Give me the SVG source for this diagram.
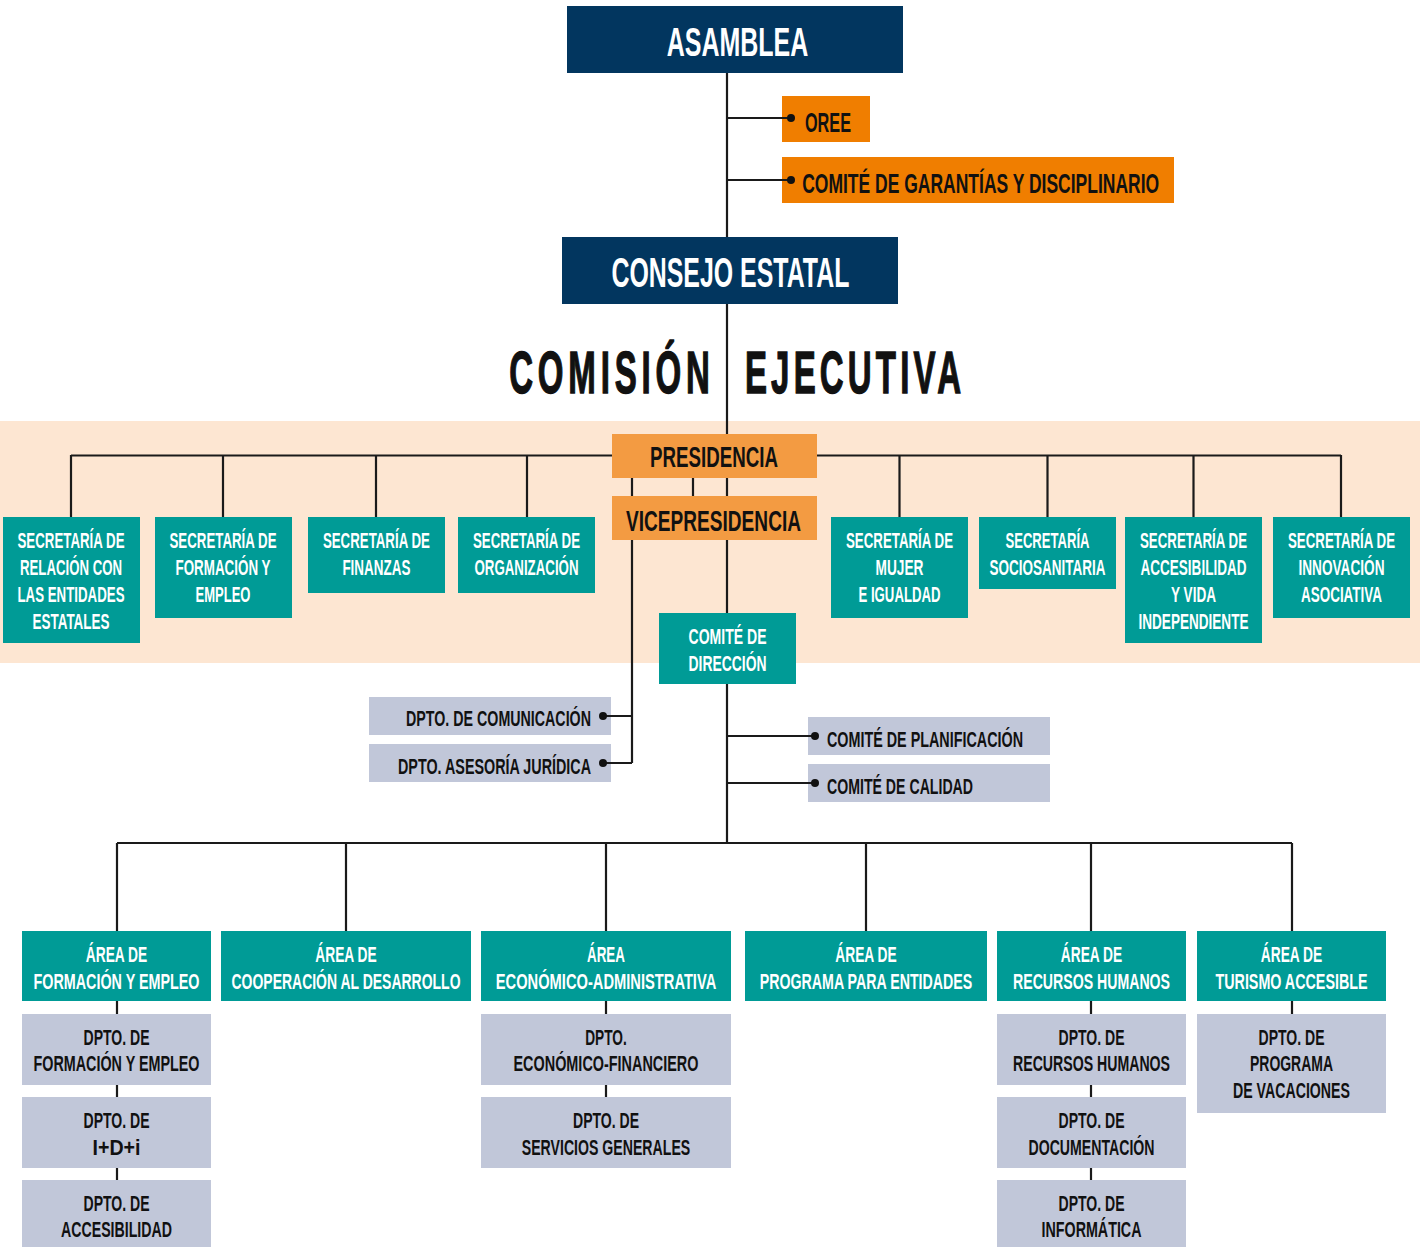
<svg xmlns="http://www.w3.org/2000/svg" width="1420" height="1247" viewBox="0 0 1420 1247">
<style>
text{font-family:"Liberation Sans Narrow","Liberation Sans","DejaVu Sans Condensed",sans-serif;font-weight:bold;text-anchor:middle}
.navy{fill:#02365f}
.org{fill:#f07e00}
.pres{fill:#f39b42}
.teal{fill:#009b96}
.lav{fill:#c1c7d9}
.w{fill:#ffffff}
.k{fill:#111111}
.s22{font-size:22px}
.s28{font-size:28px}
.big{font-size:60px;stroke:#111111;stroke-width:1.4}
.ln{stroke:#1a1a1a;stroke-width:2.2;fill:none}
.dot{fill:#111111}
.st{text-anchor:start}
</style>
<rect x="0" y="0" width="1420" height="1247" fill="#ffffff"/>
<rect x="0" y="421" width="1420" height="242" fill="#fde6d2"/>

<g id="asamblea"><rect class="navy" x="567" y="6" width="336" height="67"/><text class="w" x="737.5" y="56" font-size="41" textLength="141.5" lengthAdjust="spacingAndGlyphs">ASAMBLEA</text></g>
<g id="oree"><rect class="org" x="782" y="96" width="88" height="46"/><text class="k s28" x="828" y="132" textLength="46" lengthAdjust="spacingAndGlyphs">OREE</text></g>
<g id="comite-garantias"><rect class="org" x="782" y="157" width="392" height="46"/><text class="k s28" x="980.7" y="192.5" textLength="357" lengthAdjust="spacingAndGlyphs">COMITÉ DE GARANTÍAS Y DISCIPLINARIO</text></g>
<g id="consejo"><rect class="navy" x="562" y="237" width="336" height="67"/><text class="w" x="730.4" y="287" font-size="42" textLength="238" lengthAdjust="spacingAndGlyphs">CONSEJO ESTATAL</text></g>
<g id="comision"><text class="k big" transform="translate(609.5,392.5) scale(0.55,1)" x="0" y="0" textLength="365" lengthAdjust="spacing">COMISIÓN</text><text class="k big" transform="translate(853,392.5) scale(0.55,1)" x="0" y="0" textLength="393" lengthAdjust="spacing">EJECUTIVA</text></g>

<g id="presidencia"><rect class="pres" x="612" y="434" width="205" height="44"/><text class="k" x="714" y="467" font-size="29" textLength="128" lengthAdjust="spacingAndGlyphs">PRESIDENCIA</text></g>
<g id="vicepresidencia"><rect class="pres" x="612" y="496" width="205" height="44"/><text class="k" x="713.5" y="531" font-size="29" textLength="175" lengthAdjust="spacingAndGlyphs">VICEPRESIDENCIA</text></g>

<g id="sec-relacion"><rect class="teal" x="3" y="517" width="137" height="126"/>
<text class="w s22" x="71" y="548" textLength="107" lengthAdjust="spacingAndGlyphs">SECRETARÍA DE</text>
<text class="w s22" x="71" y="575" textLength="102" lengthAdjust="spacingAndGlyphs">RELACIÓN CON</text>
<text class="w s22" x="71" y="602" textLength="107" lengthAdjust="spacingAndGlyphs">LAS ENTIDADES</text>
<text class="w s22" x="71" y="629" textLength="77" lengthAdjust="spacingAndGlyphs">ESTATALES</text></g>
<g id="sec-formacion"><rect class="teal" x="155" y="517" width="137" height="101"/>
<text class="w s22" x="223" y="548" textLength="107" lengthAdjust="spacingAndGlyphs">SECRETARÍA DE</text>
<text class="w s22" x="223" y="575" textLength="95" lengthAdjust="spacingAndGlyphs">FORMACIÓN Y</text>
<text class="w s22" x="223" y="602" textLength="55" lengthAdjust="spacingAndGlyphs">EMPLEO</text></g>
<g id="sec-finanzas"><rect class="teal" x="308" y="517" width="137" height="76"/>
<text class="w s22" x="376.4" y="548" textLength="107" lengthAdjust="spacingAndGlyphs">SECRETARÍA DE</text>
<text class="w s22" x="376.4" y="575" textLength="68" lengthAdjust="spacingAndGlyphs">FINANZAS</text></g>
<g id="sec-organizacion"><rect class="teal" x="458" y="517" width="137" height="76"/>
<text class="w s22" x="526.5" y="548" textLength="107" lengthAdjust="spacingAndGlyphs">SECRETARÍA DE</text>
<text class="w s22" x="526.5" y="575" textLength="104" lengthAdjust="spacingAndGlyphs">ORGANIZACIÓN</text></g>
<g id="sec-mujer"><rect class="teal" x="831" y="517" width="137" height="101"/>
<text class="w s22" x="899.5" y="548" textLength="107" lengthAdjust="spacingAndGlyphs">SECRETARÍA DE</text>
<text class="w s22" x="899.5" y="575" textLength="48" lengthAdjust="spacingAndGlyphs">MUJER</text>
<text class="w s22" x="899.5" y="602" textLength="82" lengthAdjust="spacingAndGlyphs">E IGUALDAD</text></g>
<g id="sec-sociosanitaria"><rect class="teal" x="979" y="517" width="137" height="72"/>
<text class="w s22" x="1047.5" y="548" textLength="84" lengthAdjust="spacingAndGlyphs">SECRETARÍA</text>
<text class="w s22" x="1047.5" y="575" textLength="116" lengthAdjust="spacingAndGlyphs">SOCIOSANITARIA</text></g>
<g id="sec-accesibilidad"><rect class="teal" x="1125" y="517" width="137" height="126"/>
<text class="w s22" x="1193.5" y="548" textLength="107" lengthAdjust="spacingAndGlyphs">SECRETARÍA DE</text>
<text class="w s22" x="1193.5" y="575" textLength="106" lengthAdjust="spacingAndGlyphs">ACCESIBILIDAD</text>
<text class="w s22" x="1193.5" y="602" textLength="45" lengthAdjust="spacingAndGlyphs">Y VIDA</text>
<text class="w s22" x="1193.5" y="629" textLength="110" lengthAdjust="spacingAndGlyphs">INDEPENDIENTE</text></g>
<g id="sec-innovacion"><rect class="teal" x="1273" y="517" width="137" height="101"/>
<text class="w s22" x="1341.5" y="548" textLength="107" lengthAdjust="spacingAndGlyphs">SECRETARÍA DE</text>
<text class="w s22" x="1341.5" y="575" textLength="86" lengthAdjust="spacingAndGlyphs">INNOVACIÓN</text>
<text class="w s22" x="1341.5" y="602" textLength="81" lengthAdjust="spacingAndGlyphs">ASOCIATIVA</text></g>

<g id="comite-direccion"><rect class="teal" x="659" y="613" width="137" height="71"/>
<text class="w s22" x="727.5" y="644" textLength="78" lengthAdjust="spacingAndGlyphs">COMITÉ DE</text>
<text class="w s22" x="727.5" y="671" textLength="78" lengthAdjust="spacingAndGlyphs">DIRECCIÓN</text></g>

<g id="dpto-comunicacion"><rect class="lav" x="369" y="697" width="242" height="38"/>
<text class="k s22" x="498.5" y="726" textLength="185" lengthAdjust="spacingAndGlyphs">DPTO. DE COMUNICACIÓN</text></g>
<g id="dpto-juridica"><rect class="lav" x="369" y="744" width="242" height="38"/>
<text class="k s22" x="494.5" y="774" textLength="193" lengthAdjust="spacingAndGlyphs">DPTO. ASESORÍA JURÍDICA</text></g>
<g id="comite-planificacion"><rect class="lav" x="808" y="717" width="242" height="38"/>
<text class="k s22 st" x="827" y="747" textLength="196" lengthAdjust="spacingAndGlyphs">COMITÉ DE PLANIFICACIÓN</text></g>
<g id="comite-calidad"><rect class="lav" x="808" y="764" width="242" height="38"/>
<text class="k s22 st" x="827" y="794" textLength="146" lengthAdjust="spacingAndGlyphs">COMITÉ DE CALIDAD</text></g>

<g id="area-formacion"><rect class="teal" x="22" y="931" width="189" height="70"/>
<text class="w s22" x="116.5" y="962" textLength="61.5" lengthAdjust="spacingAndGlyphs">ÁREA DE</text>
<text class="w s22" x="116.5" y="988.5" textLength="166" lengthAdjust="spacingAndGlyphs">FORMACIÓN Y EMPLEO</text></g>
<g id="area-cooperacion"><rect class="teal" x="221" y="931" width="250" height="70"/>
<text class="w s22" x="346" y="962" textLength="61.5" lengthAdjust="spacingAndGlyphs">ÁREA DE</text>
<text class="w s22" x="346" y="988.5" textLength="229" lengthAdjust="spacingAndGlyphs">COOPERACIÓN AL DESARROLLO</text></g>
<g id="area-economico"><rect class="teal" x="481" y="931" width="250" height="70"/>
<text class="w s22" x="606" y="962" textLength="38" lengthAdjust="spacingAndGlyphs">ÁREA</text>
<text class="w s22" x="606" y="988.5" textLength="220.5" lengthAdjust="spacingAndGlyphs">ECONÓMICO-ADMINISTRATIVA</text></g>
<g id="area-programa"><rect class="teal" x="745" y="931" width="242" height="70"/>
<text class="w s22" x="866" y="962" textLength="61.5" lengthAdjust="spacingAndGlyphs">ÁREA DE</text>
<text class="w s22" x="866" y="988.5" textLength="212.5" lengthAdjust="spacingAndGlyphs">PROGRAMA PARA ENTIDADES</text></g>
<g id="area-rrhh"><rect class="teal" x="997" y="931" width="189" height="70"/>
<text class="w s22" x="1091.5" y="962" textLength="61.5" lengthAdjust="spacingAndGlyphs">ÁREA DE</text>
<text class="w s22" x="1091.5" y="988.5" textLength="157" lengthAdjust="spacingAndGlyphs">RECURSOS HUMANOS</text></g>
<g id="area-turismo"><rect class="teal" x="1197" y="931" width="189" height="70"/>
<text class="w s22" x="1291.5" y="962" textLength="61.5" lengthAdjust="spacingAndGlyphs">ÁREA DE</text>
<text class="w s22" x="1291.5" y="988.5" textLength="152" lengthAdjust="spacingAndGlyphs">TURISMO ACCESIBLE</text></g>

<g id="dpto-formacion"><rect class="lav" x="22" y="1014" width="189" height="71"/>
<text class="k s22" x="116.5" y="1044.5" textLength="66" lengthAdjust="spacingAndGlyphs">DPTO. DE</text>
<text class="k s22" x="116.5" y="1071" textLength="166" lengthAdjust="spacingAndGlyphs">FORMACIÓN Y EMPLEO</text></g>
<g id="dpto-idi"><rect class="lav" x="22" y="1097" width="189" height="71"/>
<text class="k s22" x="116.5" y="1127.5" textLength="66" lengthAdjust="spacingAndGlyphs">DPTO. DE</text>
<text class="k s22" x="116.5" y="1154.5" textLength="48" lengthAdjust="spacingAndGlyphs">I+D+i</text></g>
<g id="dpto-accesibilidad"><rect class="lav" x="22" y="1180" width="189" height="67"/>
<text class="k s22" x="116.5" y="1210.5" textLength="66" lengthAdjust="spacingAndGlyphs">DPTO. DE</text>
<text class="k s22" x="116.5" y="1237" textLength="111" lengthAdjust="spacingAndGlyphs">ACCESIBILIDAD</text></g>
<g id="dpto-economico"><rect class="lav" x="481" y="1014" width="250" height="71"/>
<text class="k s22" x="606" y="1044.5" textLength="41.5" lengthAdjust="spacingAndGlyphs">DPTO.</text>
<text class="k s22" x="606" y="1071" textLength="185" lengthAdjust="spacingAndGlyphs">ECONÓMICO-FINANCIERO</text></g>
<g id="dpto-servicios"><rect class="lav" x="481" y="1097" width="250" height="71"/>
<text class="k s22" x="606" y="1127.5" textLength="66" lengthAdjust="spacingAndGlyphs">DPTO. DE</text>
<text class="k s22" x="606" y="1154.5" textLength="168.5" lengthAdjust="spacingAndGlyphs">SERVICIOS GENERALES</text></g>
<g id="dpto-rrhh"><rect class="lav" x="997" y="1014" width="189" height="71"/>
<text class="k s22" x="1091.5" y="1044.5" textLength="66" lengthAdjust="spacingAndGlyphs">DPTO. DE</text>
<text class="k s22" x="1091.5" y="1071" textLength="157" lengthAdjust="spacingAndGlyphs">RECURSOS HUMANOS</text></g>
<g id="dpto-documentacion"><rect class="lav" x="997" y="1097" width="189" height="71"/>
<text class="k s22" x="1091.5" y="1127.5" textLength="66" lengthAdjust="spacingAndGlyphs">DPTO. DE</text>
<text class="k s22" x="1091.5" y="1154.5" textLength="126" lengthAdjust="spacingAndGlyphs">DOCUMENTACIÓN</text></g>
<g id="dpto-informatica"><rect class="lav" x="997" y="1180" width="189" height="67"/>
<text class="k s22" x="1091.5" y="1210.5" textLength="66" lengthAdjust="spacingAndGlyphs">DPTO. DE</text>
<text class="k s22" x="1091.5" y="1237" textLength="100" lengthAdjust="spacingAndGlyphs">INFORMÁTICA</text></g>
<g id="dpto-vacaciones"><rect class="lav" x="1197" y="1014" width="189" height="99"/>
<text class="k s22" x="1291.5" y="1044.5" textLength="66" lengthAdjust="spacingAndGlyphs">DPTO. DE</text>
<text class="k s22" x="1291.5" y="1071" textLength="83" lengthAdjust="spacingAndGlyphs">PROGRAMA</text>
<text class="k s22" x="1291.5" y="1097.5" textLength="117" lengthAdjust="spacingAndGlyphs">DE VACACIONES</text></g>

<g id="connectors">
<path class="ln" d="M727 73 V237 M727 118 H791 M727 180 H791"/>
<path class="ln" d="M727 304 V434 M727 478 V496 M727 540 V613 M727 684 V843"/>
<path class="ln" d="M71 455.5 H612 M817 455.5 H1341 M71 455 V517 M223 455 V517 M376 455 V517 M527 455 V517 M899.5 455 V517 M1047.5 455 V517 M1193.5 455 V517 M1341 455 V517"/>
<path class="ln" d="M693 478 V496 M632 478 V496 M632 540 V763 M603 716 H632 M603 763 H632"/>
<path class="ln" d="M727 736 H815 M727 783 H815"/>
<path class="ln" d="M117 843 H1292 M117 843 V931 M346 843 V931 M606 843 V931 M866 843 V931 M1091 843 V931 M1292 843 V931"/>
<path class="ln" d="M117 1001 V1014 M117 1085 V1097 M117 1168 V1180 M606 1001 V1014 M606 1085 V1097 M1091 1001 V1014 M1091 1085 V1097 M1091 1168 V1180 M1292 1001 V1014"/>
<circle class="dot" cx="791" cy="118" r="4"/>
<circle class="dot" cx="791" cy="180" r="4"/>
<circle class="dot" cx="603" cy="716" r="4"/>
<circle class="dot" cx="603" cy="763" r="4"/>
<circle class="dot" cx="815" cy="736" r="4"/>
<circle class="dot" cx="815" cy="783" r="4"/>
</g>
</svg>
